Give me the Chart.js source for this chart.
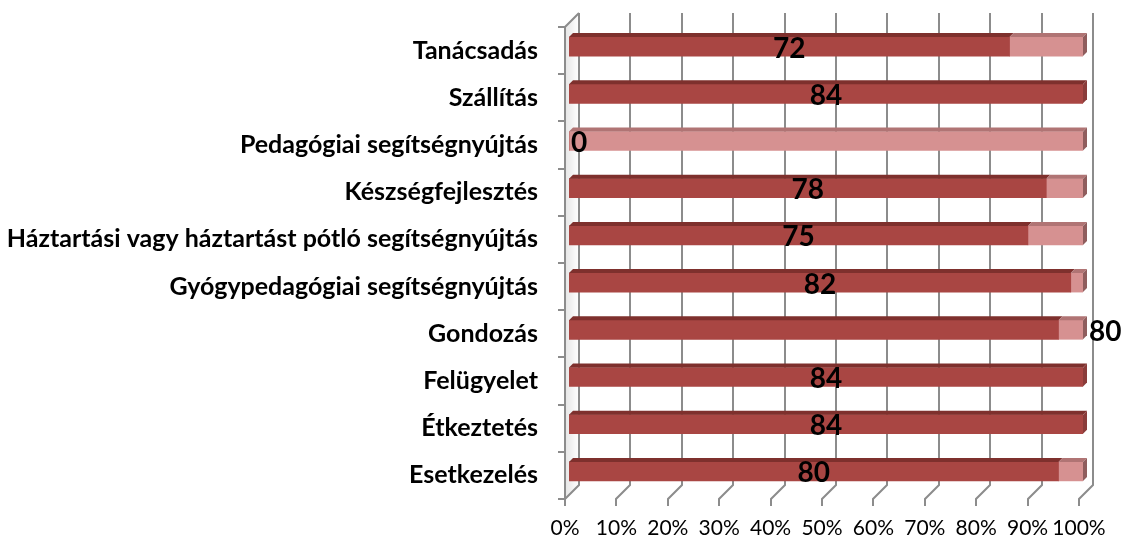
<!DOCTYPE html>
<html>
<head>
<meta charset="utf-8">
<script src="https://cdn.jsdelivr.net/npm/chart.js@4/dist/chart.umd.min.js"></script>
<style>
  html, body { margin: 0; padding: 0; background: #ffffff; }
  #wrap { width: 1124px; height: 543px; position: relative; }
</style>
</head>
<body>
<div id="wrap"><canvas id="c" width="1124" height="543"></canvas></div>
<script>
// ---- data ----
const categories = [
  "Tanácsadás",
  "Szállítás",
  "Pedagógiai segítségnyújtás",
  "Készségfejlesztés",
  "Háztartási vagy háztartást pótló segítségnyújtás",
  "Gyógypedagógiai segítségnyújtás",
  "Gondozás",
  "Felügyelet",
  "Étkeztetés",
  "Esetkezelés"
];
const yesCounts = [72, 84, 0, 78, 75, 82, 80, 84, 84, 80];
const noCounts  = [12, 0, 84, 6, 9, 2, 4, 0, 0, 4];
const xTickValues = [0, 10, 20, 30, 40, 50, 60, 70, 80, 90, 100];

// 100% stacked shares
const totals = yesCounts.map((v, i) => v + noCounts[i]);
const yesPct = yesCounts.map((v, i) => totals[i] ? v / totals[i] * 100 : 0);
const noPct  = noCounts.map((v, i) => totals[i] ? v / totals[i] * 100 : 0);

const DEPTH = 14;   // back wall offset
const BAR_SHIFT = 4; // bars sit a bit into the depth
const GRID = '#8c8c8c';

const threeD = {
  id: 'threeD',
  beforeDatasetsDraw(chart) {
    const ctx = chart.ctx;
    const xs = chart.scales.x, ys = chart.scales.y;
    const top = ys.top, bot = ys.bottom;
    ctx.save();
    const g = ctx.createLinearGradient(xs.left, 0, xs.left + DEPTH, 0);
    g.addColorStop(0, 'rgba(0,0,0,0.10)');
    g.addColorStop(1, 'rgba(0,0,0,0.0)');
    ctx.fillStyle = g;
    ctx.beginPath();
    ctx.moveTo(xs.left, top); ctx.lineTo(xs.left + DEPTH, top - DEPTH);
    ctx.lineTo(xs.left + DEPTH, bot - DEPTH); ctx.lineTo(xs.left, bot);
    ctx.closePath(); ctx.fill();

    ctx.strokeStyle = GRID;
    ctx.lineWidth = 2;
    xTickValues.forEach(v => {
      const x = Math.round(xs.getPixelForValue(v));
      ctx.beginPath();
      ctx.moveTo(x + DEPTH, top - DEPTH);
      ctx.lineTo(x + DEPTH, bot - DEPTH);
      ctx.lineTo(x, bot);
      ctx.lineTo(x, bot + 7);
      ctx.stroke();
    });
    ctx.beginPath();
    ctx.moveTo(xs.left, bot);
    ctx.lineTo(xs.left, top);
    ctx.lineTo(xs.left + DEPTH, top - DEPTH);
    ctx.stroke();
    const n = categories.length;
    const step = (bot - top) / n;
    for (let i = 0; i <= n; i++) {
      const y = Math.round(top + i * step);
      ctx.beginPath();
      ctx.moveTo(xs.left - 7, y);
      ctx.lineTo(xs.left, y);
      ctx.stroke();
    }
    ctx.restore();
    ctx.save();
    ctx.translate(BAR_SHIFT, -BAR_SHIFT);
  },
  afterDatasetsDraw(chart) {
    const ctx = chart.ctx;
    const topCols = ['#7e302d', '#b07474'];
    const sideCols = ['#8a3c3a', '#8f5d5d'];
    const metas = [chart.getDatasetMeta(0), chart.getDatasetMeta(1)];
    const d = BAR_SHIFT;
    categories.forEach((c, i) => {
      let lastIdx = -1;
      metas.forEach((m, k) => {
        const el = m.data[i];
        const p = el.getProps(['x', 'y', 'base', 'height'], true);
        const x0 = Math.min(p.base, p.x), x1 = Math.max(p.base, p.x);
        if (x1 - x0 < 0.5) return;
        lastIdx = k;
        const yT = p.y - p.height / 2;
        ctx.fillStyle = topCols[k];
        ctx.beginPath();
        ctx.moveTo(x0, yT); ctx.lineTo(x0 + d, yT - d);
        ctx.lineTo(x1 + d, yT - d); ctx.lineTo(x1, yT);
        ctx.closePath(); ctx.fill();
      });
      if (lastIdx >= 0) {
        const el = metas[lastIdx].data[i];
        const p = el.getProps(['x', 'y', 'height'], true);
        const yT = p.y - p.height / 2, yB = p.y + p.height / 2;
        ctx.fillStyle = sideCols[lastIdx];
        ctx.beginPath();
        ctx.moveTo(p.x, yT); ctx.lineTo(p.x + d, yT - d);
        ctx.lineTo(p.x + d, yB - d); ctx.lineTo(p.x, yB);
        ctx.closePath(); ctx.fill();
      }
    });
    ctx.restore();

    const opts = chart.options.plugins.threeD;
    ctx.save();
    ctx.font = opts.labelFont;
    ctx.fillStyle = '#000';
    ctx.textBaseline = 'middle';
    categories.forEach((c, i) => {
      const el = metas[0].data[i];
      const p = el.getProps(['x', 'y', 'base'], true);
      const place = (opts.labelPlace && opts.labelPlace[c]) || 'center';
      let x, align;
      if (yesCounts[i] === 0) { x = p.base + BAR_SHIFT + 2; align = 'left'; }
      else if (place === 'outside') { x = chart.scales.x.right + BAR_SHIFT + 6; align = 'left'; }
      else { x = (p.base + p.x) / 2 + BAR_SHIFT; align = 'center'; }
      ctx.textAlign = align;
      ctx.fillText(String(yesCounts[i]), x, p.y - BAR_SHIFT + 2);
    });
    ctx.restore();
  }
};

const ctx = document.getElementById('c').getContext('2d');
new Chart(ctx, {
  type: 'bar',
  data: {
    labels: categories,
    datasets: [
      { label: 'Igen', data: yesPct, backgroundColor: '#a94643', borderWidth: 0, barThickness: 19 },
      { label: 'Nem', data: noPct, backgroundColor: '#d69191', borderWidth: 0, barThickness: 19 }
    ]
  },
  options: {
    indexAxis: 'y',
    responsive: false,
    animation: false,
    layout: { padding: { top: 27, right: 45, left: 0, bottom: 0 } },
    plugins: {
      legend: { display: false },
      tooltip: { enabled: false },
      threeD: {
        labelFont: 'bold 28px Lato',
        labelPlace: { 'Gondozás': 'outside' }
      }
    },
    scales: {
      x: {
        stacked: true,
        min: 0, max: 100,
        afterBuildTicks(s) { s.ticks = xTickValues.map(v => ({ value: v })); },
        afterFit(s) { s.height = 44; },
        grid: { display: false, drawTicks: false },
        border: { display: false },
        ticks: {
          autoSkip: false, maxRotation: 0, padding: 17,
          color: '#000',
          font: { family: 'Lato', size: 21 },
          callback: v => v + '%'
        }
      },
      y: {
        stacked: true,
        afterFit(s) { s.width = 565; s.paddingTop = 0; s.paddingBottom = 0; },
        grid: { display: false, drawTicks: false },
        border: { display: false },
        ticks: {
          padding: 27,
          color: '#000',
          font: { family: 'Lato', size: 25, weight: 'bold' }
        }
      }
    }
  },
  plugins: [threeD]
});
</script>
</body>
</html>
